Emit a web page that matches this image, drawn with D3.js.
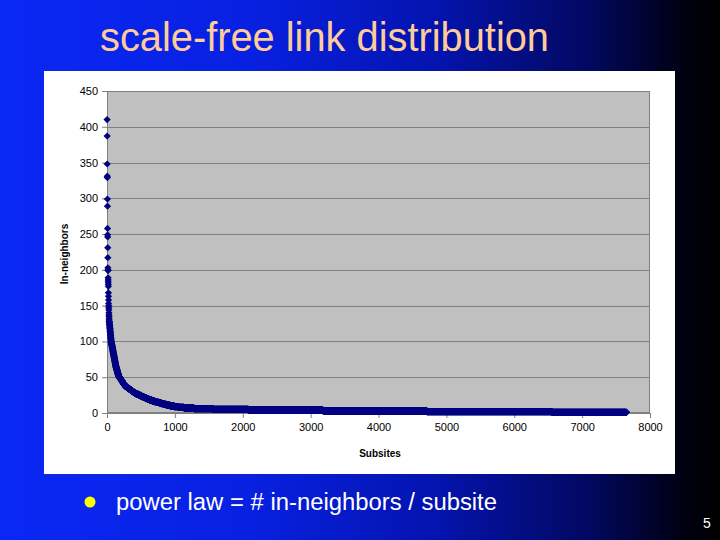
<!DOCTYPE html>
<html><head><meta charset="utf-8">
<script src="https://cdn.jsdelivr.net/npm/d3@7"></script>
<style>html,body{margin:0;padding:0;background:#000;}svg{display:block;}</style>
</head><body>
<svg id="slide" width="720" height="540"></svg>
<script>
// ---- data ----
const titleText = "scale-free link distribution";
const bulletText = "power law = # in-neighbors / subsite";
const pageNumber = "5";
const xTicks = [0, 1000, 2000, 3000, 4000, 5000, 6000, 7000, 8000];
const yTicks = [0, 50, 100, 150, 200, 250, 300, 350, 400, 450];
const xLabel = "Subsites";
const yLabel = "In-neighbors";
// in-neighbor counts (descending) and number of subsites having each count
const inNeighborValues = [410,387,348,331,329,299,289,258,249,246,231,217,203,200,199,189,186,183,180,177,168,163,158,153,150,147,144,140,137,135,132,130,
 128,126,124,122,120,118,116,114,112,110,108,106,104,102,100,
 99,98,97,96,95,94,93,92,91,90,89,88,87,86,85,84,83,82,81,80,79,78,77,76,75,74,73,72,71,70,69,68,67,66,
 65,64,63,62,61,60,59,58,57,56,55,54,53,52,
 51,50,49,48,47,46,45,44,43,42,41,40,39,38,
 37,36,35,34,33,32,31,30,29,28,
 27,26,25,24,23,22,21,20,19,
 18,17,16,15,14,13,12,
 11,10,9,8,7,6,5,4,3,2,1];
const subsiteCounts = [1,1,1,1,1,1,1,1,1,1,1,1,1,1,1,1,1,1,1,1,1,1,1,1,1,1,1,1,1,1,1,1,
 2,2,2,2,2,2,2,2,2,2,2,2,2,2,2,
 2,2,2,2,2,2,2,2,2,2,2,2,2,2,2,2,2,2,2,2,2,2,2,2,2,2,2,2,2,2,2,2,2,2,
 3,3,3,3,3,3,3,3,3,3,3,3,3,3,
 7,7,7,7,7,7,7,7,7,7,7,7,7,7,
 15,15,15,15,15,15,15,15,15,15,
 23,23,23,23,23,23,23,23,23,
 35,35,35,35,35,35,35,
 55,60,65,80,150,280,520,1100,1530,1840,1100];

// expand histogram into ranked subsites
const points = [];
let rank = 1;
inNeighborValues.forEach((v, i) => {
  for (let k = 0; k < subsiteCounts[i]; k++) points.push({rank: rank++, value: v});
});

const svg = d3.select("#slide");
const defs = svg.append("defs");
const grad = defs.append("linearGradient").attr("id","bg").attr("x1","0").attr("y1","0").attr("x2","1").attr("y2","0");
[[0,"#0a28f5"],[0.35,"#0820e0"],[0.6,"#0414b0"],[0.82,"#020860"],[0.95,"#000010"],[1,"#000000"]]
  .forEach(([o,c]) => grad.append("stop").attr("offset",o).attr("stop-color",c));
svg.append("rect").attr("width",720).attr("height",540).attr("fill","url(#bg)");

// title
svg.append("text").attr("x",100).attr("y",51)
  .attr("font-family","Liberation Sans, Arial, sans-serif").attr("font-size",41)
  .attr("textLength",449).attr("lengthAdjust","spacingAndGlyphs")
  .attr("fill","#ffcc99").text(titleText);

// chart box
svg.append("rect").attr("x",44).attr("y",71).attr("width",631).attr("height",403).attr("fill","#ffffff");

const plot = {left:107, right:650, top:91, bottom:413};
const x = d3.scaleLinear().domain([0, 8000]).range([plot.left, plot.right]);
const y = d3.scaleLinear().domain([0, 450]).range([plot.bottom, plot.top]);

svg.append("rect").attr("x",plot.left).attr("y",plot.top)
  .attr("width",plot.right-plot.left).attr("height",plot.bottom-plot.top)
  .attr("fill","#c0c0c0");

// gridlines
svg.append("g").selectAll("line").data(yTicks.filter(t => t > 0 && t < 450)).join("line")
  .attr("x1",plot.left).attr("x2",plot.right)
  .attr("y1",d => Math.round(y(d))+0.5).attr("y2",d => Math.round(y(d))+0.5)
  .attr("stroke","#808080").attr("stroke-width",1);
// plot border
svg.append("rect").attr("x",plot.left+0.5).attr("y",plot.top+0.5)
  .attr("width",plot.right-plot.left-1).attr("height",plot.bottom-plot.top-1)
  .attr("fill","none").attr("stroke","#808080");

const fontAxis = "Liberation Sans, Arial, sans-serif";
const xAxis = d3.axisBottom(x).tickValues(xTicks).tickSize(5).tickPadding(5).tickFormat(d3.format("d"));
const gx = svg.append("g").attr("transform",`translate(0,${plot.bottom})`).call(xAxis);
const yAxis = d3.axisLeft(y).tickValues(yTicks).tickSize(5).tickPadding(4).tickFormat(d3.format("d"));
const gy = svg.append("g").attr("transform",`translate(${plot.left},0)`).call(yAxis);
[gx, gy].forEach(g => {
  g.select(".domain").attr("stroke","#808080");
  g.selectAll(".tick line").attr("stroke","#808080");
  g.selectAll(".tick text").attr("font-family",fontAxis).attr("font-size",11).attr("fill","#000");
});

svg.append("text").attr("x",380).attr("y",457).attr("text-anchor","middle")
  .attr("font-family",fontAxis).attr("font-size",10).attr("font-weight","bold").text(xLabel);
svg.append("text").attr("transform","translate(68,254) rotate(-90)").attr("text-anchor","middle")
  .attr("font-family",fontAxis).attr("font-size",10).attr("font-weight","bold").text(yLabel);

// points (diamonds)
const diamond = "M0,-3.6L3.6,0L0,3.6L-3.6,0Z";
svg.append("g").selectAll("path").data(points).join("path")
  .attr("d",diamond)
  .attr("transform",d => `translate(${x(d.rank)},${y(d.value)})`)
  .attr("fill","#000080");

// bullet
svg.append("circle").attr("cx",90).attr("cy",502).attr("r",5.5).attr("fill","#ffff00");
svg.append("text").attr("x",116).attr("y",510)
  .attr("font-family","Liberation Sans, Arial, sans-serif").attr("font-size",23)
  .attr("textLength",381).attr("lengthAdjust","spacingAndGlyphs")
  .attr("fill","#ffffff").text(bulletText);
svg.append("text").attr("x",703).attr("y",528)
  .attr("font-family","Liberation Sans, Arial, sans-serif").attr("font-size",14)
  .attr("fill","#ffffff").text(pageNumber);
</script>
</body></html>
